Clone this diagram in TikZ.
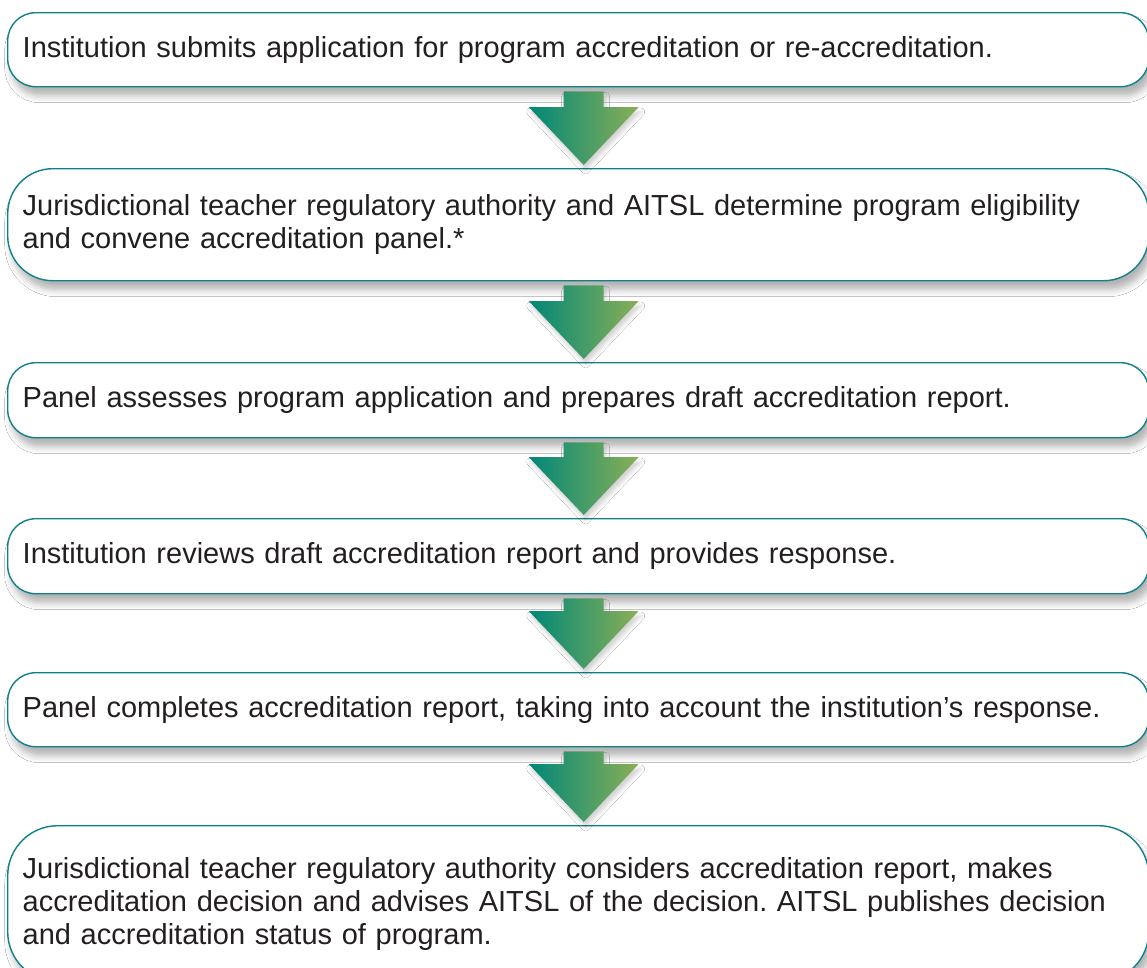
\documentclass[tikz,border=0pt]{standalone}
\usepackage{fontspec}
\setmainfont{Liberation Sans}
\usepackage{xcolor}
\usetikzlibrary{calc,shadows.blur}
\definecolor{boxline}{RGB}{16,128,138}
\definecolor{stepteal}{RGB}{0,135,120}
\definecolor{stepolive}{RGB}{138,175,86}
\definecolor{steptext}{RGB}{35,31,32}

\begin{document}
\frenchspacing
\begin{tikzpicture}[x=1pt, y=1pt,
	stepbox/.style={draw=boxline, line width=1.4pt, fill=white, rounded corners=28pt, anchor=north west, minimum width=1141pt, minimum height=74pt, text width=1111pt, inner xsep=15pt, inner ysep=0pt, align=left, text=steptext, font=\fontsize{29}{33}\selectfont, blur shadow={shadow xshift=4pt, shadow yshift=-9pt, shadow blur radius=7pt, shadow opacity=30}},
	downarrow/.style={left color=stepteal, right color=stepolive, blur shadow={shadow xshift=2pt, shadow yshift=-5pt, shadow blur radius=4pt, shadow opacity=18}}
]
\useasboundingbox (0,0) rectangle (1147,-967);
\fill[white] (0,0) rectangle (1147,-967);

%steps
\node[stepbox] (s1) at (7,-12) {Institution submits application for program accreditation or re-accreditation.};
\node[stepbox, minimum height=112pt, rounded corners=45pt] (s2) at (7,-168) {Jurisdictional teacher regulatory authority and AITSL determine program eligibility\\ and convene accreditation panel.*};
\node[stepbox, minimum height=75pt] (s3) at (7,-362) {Panel assesses program application and prepares draft accreditation report.};
\node[stepbox, minimum height=75pt] (s4) at (7,-518) {Institution reviews draft accreditation report and provides response.};
\node[stepbox] (s5) at (7,-672) {Panel completes accreditation report, taking into account the institution’s response.};
\node[stepbox, minimum height=156pt, rounded corners=50pt] (s6) at (7,-825) {Jurisdictional teacher regulatory authority considers accreditation report, makes\\ accreditation decision and advises AITSL of the decision. AITSL publishes decision\\ and accreditation status of program.};

%block arrows between steps
\foreach \a/\b in {s1/s2,s2/s3,s3/s4,s4/s5,s5/s6}{
	\coordinate (top) at ($(\a.south)+(5.5,-4)$);
	\coordinate (tip) at ($(\b.north)+(5.5,3)$);
	\path[downarrow] ($(top)+(-20,0)$) -- ($(top)+(20,0)$) -- ($(tip)+(20,58)$) -- ($(tip)+(55,58)$) -- (tip) -- ($(tip)+(-55,58)$) -- ($(tip)+(-20,58)$) -- cycle;
}
\end{tikzpicture}
\end{document}
